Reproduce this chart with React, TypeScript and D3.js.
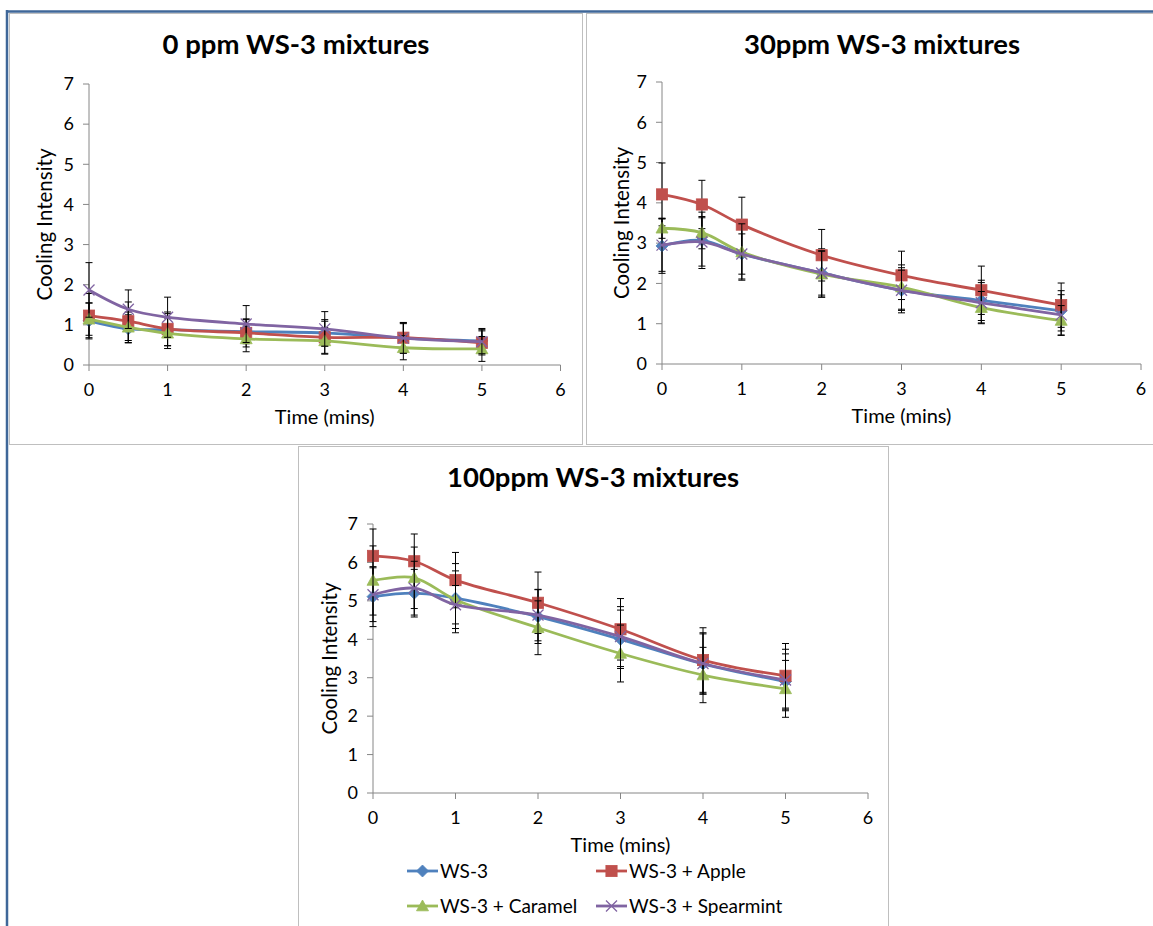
import React from "react";
import * as d3 from "d3";

const times = [0, 0.5, 1, 2, 3, 4, 5];
const seriesNames = ["WS-3", "WS-3 + Apple", "WS-3 + Caramel", "WS-3 + Spearmint"];
const xTicks = [0, 1, 2, 3, 4, 5, 6];
const yTicks = [0, 1, 2, 3, 4, 5, 6, 7];
const panelTitles = ["0 ppm WS-3 mixtures", "30ppm WS-3 mixtures", "100ppm WS-3 mixtures"];
const xTitle = "Time (mins)";
const yTitle = "Cooling Intensity";

// 0 ppm
const ws3_0 = [1.10, 0.90, 0.88, 0.83, 0.80, 0.67, 0.60];
const apple_0 = [1.23, 1.09, 0.90, 0.80, 0.69, 0.68, 0.55];
const caramel_0 = [1.14, 0.94, 0.79, 0.65, 0.60, 0.43, 0.40];
const spear_0 = [1.87, 1.39, 1.19, 1.02, 0.90, 0.67, 0.58];
const errWs3_0 = [0.45, 0.35, 0.40, 0.30, 0.33, 0.36, 0.31];
const errApple_0 = [0.55, 0.48, 0.42, 0.35, 0.40, 0.38, 0.30];
const errCaramel_0 = [0.40, 0.38, 0.38, 0.32, 0.33, 0.30, 0.31];
const errSpear_0 = [0.68, 0.48, 0.50, 0.46, 0.43, 0.38, 0.30];

// 30 ppm
const ws3_30 = [2.93, 3.07, 2.73, 2.26, 1.83, 1.58, 1.32];
const apple_30 = [4.21, 3.96, 3.46, 2.70, 2.20, 1.83, 1.46];
const caramel_30 = [3.37, 3.26, 2.78, 2.23, 1.91, 1.40, 1.08];
const spear_30 = [2.95, 3.03, 2.73, 2.26, 1.83, 1.52, 1.22];
const errWs3_30 = [0.68, 0.70, 0.62, 0.60, 0.56, 0.50, 0.50];
const errApple_30 = [0.78, 0.60, 0.68, 0.64, 0.60, 0.60, 0.55];
const errCaramel_30 = [0.25, 0.40, 0.70, 0.57, 0.55, 0.40, 0.37];
const errSpear_30 = [0.65, 0.60, 0.50, 0.55, 0.50, 0.50, 0.50];

// 100 ppm
const ws3_100 = [5.11, 5.20, 5.07, 4.59, 4.00, 3.36, 2.90];
const apple_100 = [6.17, 6.03, 5.54, 4.95, 4.26, 3.46, 3.05];
const caramel_100 = [5.53, 5.60, 5.03, 4.30, 3.63, 3.07, 2.71];
const spear_100 = [5.16, 5.33, 4.90, 4.63, 4.07, 3.37, 2.94];
const errWs3_100 = [0.78, 0.62, 0.90, 0.70, 0.76, 0.78, 0.72];
const errApple_100 = [0.70, 0.71, 0.72, 0.80, 0.80, 0.84, 0.84];
const errCaramel_100 = [0.90, 0.80, 0.75, 0.70, 0.74, 0.72, 0.74];
const errSpear_100 = [0.70, 0.70, 0.50, 0.67, 0.78, 0.80, 0.80];

const colors = ["#4F81BD", "#C0504D", "#9BBB59", "#8064A2"];
const FONT = "Lato, 'Noto Sans', sans-serif";

const panels = [
  {
    title: panelTitles[0],
    values: [ws3_0, apple_0, caramel_0, spear_0],
    errors: [errWs3_0, errApple_0, errCaramel_0, errSpear_0],
    x0: 89, x1: 560.5, y0: 365, y1: 84, titleX: 296, titleY: 54, yTitleX: 52,
  },
  {
    title: panelTitles[1],
    values: [ws3_30, apple_30, caramel_30, spear_30],
    errors: [errWs3_30, errApple_30, errCaramel_30, errSpear_30],
    x0: 662, x1: 1141, y0: 364, y1: 82, titleX: 882, titleY: 54, yTitleX: 629,
  },
  {
    title: panelTitles[2],
    values: [ws3_100, apple_100, caramel_100, spear_100],
    errors: [errWs3_100, errApple_100, errCaramel_100, errSpear_100],
    x0: 373, x1: 868, y0: 793, y1: 524, titleX: 593, titleY: 487, yTitleX: 337,
  },
];

function Marker({ kind, cx, cy, color }: { kind: number; cx: number; cy: number; color: string }) {
  if (kind === 0) {
    const r = 6;
    return <path d={`M${cx},${cy - r}L${cx + r},${cy}L${cx},${cy + r}L${cx - r},${cy}Z`} fill={color} stroke={color} strokeWidth={0.8} />;
  }
  if (kind === 1) {
    const r = 5.6;
    return <rect x={cx - r} y={cy - r} width={2 * r} height={2 * r} fill={color} stroke={color} strokeWidth={0.8} />;
  }
  if (kind === 2) {
    const r = 6;
    return <path d={`M${cx},${cy - r}L${cx + r},${cy + r * 0.8}L${cx - r},${cy + r * 0.8}Z`} fill={color} stroke={color} strokeWidth={0.8} />;
  }
  const r = 5.5;
  return (
    <path d={`M${cx - r},${cy - r}L${cx + r},${cy + r}M${cx - r},${cy + r}L${cx + r},${cy - r}`} stroke={color} strokeWidth={1.3} fill="none" />
  );
}

function Panel({ p }: { p: (typeof panels)[number] }) {
  const x = d3.scaleLinear().domain([0, 6]).range([p.x0, p.x1]);
  const y = d3.scaleLinear().domain([0, 7]).range([p.y0, p.y1]);
  const line = d3
    .line<number>()
    .x((_, i) => x(times[i]))
    .y((v) => y(v))
    .curve(d3.curveCatmullRom.alpha(0.5));
  const axisColor = "#868686";
  return (
    <g>
      <text x={p.titleX} y={p.titleY} textAnchor="middle" fontFamily={FONT} fontWeight="bold" fontSize={27.5} fill="#000">
        {p.title}
      </text>
      {/* y axis */}
      <line x1={x(0)} x2={x(0)} y1={y(0)} y2={y(7)} stroke={axisColor} strokeWidth={1} />
      {yTicks.map((t) => (
        <g key={"y" + t}>
          <line x1={x(0) - 6} x2={x(0)} y1={y(t)} y2={y(t)} stroke={axisColor} />
          <text x={x(0) - 15} y={y(t)} dy="0.35em" textAnchor="end" fontFamily={FONT} fontSize={18} fill="#000">
            {t}
          </text>
        </g>
      ))}
      {/* x axis */}
      <line x1={x(0)} x2={x(6)} y1={y(0)} y2={y(0)} stroke={axisColor} strokeWidth={1} />
      {xTicks.map((t) => (
        <g key={"x" + t}>
          <line x1={x(t)} x2={x(t)} y1={y(0)} y2={y(0) + 6} stroke={axisColor} />
          <text x={x(t)} y={y(0) + 31} textAnchor="middle" fontFamily={FONT} fontSize={18} fill="#000">
            {t}
          </text>
        </g>
      ))}
      <text x={(x(0) + x(6)) / 2} y={y(0) + 59} textAnchor="middle" fontFamily={FONT} fontSize={20} fill="#000">
        {xTitle}
      </text>
      <text
        transform={`translate(${p.yTitleX},${(y(0) + y(7)) / 2}) rotate(-90)`}
        textAnchor="middle"
        fontFamily={FONT}
        fontSize={20.5}
        fill="#000"
      >
        {yTitle}
      </text>
      {p.values.map((vals, si) => (
        <g key={"s" + si}>
          {vals.map((v, i) => {
            const e = p.errors[si][i];
            const cx = x(times[i]);
            return (
              <g key={"e" + i} stroke="#000" strokeWidth={1}>
                <line x1={cx} x2={cx} y1={y(v - e)} y2={y(v + e)} />
                <line x1={cx - 3.5} x2={cx + 3.5} y1={y(v - e)} y2={y(v - e)} />
                <line x1={cx - 3.5} x2={cx + 3.5} y1={y(v + e)} y2={y(v + e)} />
              </g>
            );
          })}
          <path d={line(vals) || ""} fill="none" stroke={colors[si]} strokeWidth={2.8} />
          {vals.map((v, i) => (
            <Marker key={"m" + i} kind={si} cx={x(times[i])} cy={y(v)} color={colors[si]} />
          ))}
        </g>
      ))}
    </g>
  );
}

const legendPos = [
  { lx: 407, ly: 871 },
  { lx: 596, ly: 871 },
  { lx: 407, ly: 906 },
  { lx: 596, ly: 906 },
];

export default function App() {
  return (
    <svg width={1153} height={926} style={{ position: "absolute", left: 0, top: 0, background: "#fff" }}>
      <rect x={0} y={0} width={1153} height={926} fill="#fff" />
      {/* panel borders */}
      <rect x={9.5} y={13.5} width={573} height={431} fill="none" stroke="#BFBFBF" strokeWidth={1} />
      <rect x={586.5} y={13.5} width={580} height={431} fill="none" stroke="#BFBFBF" strokeWidth={1} />
      <rect x={298.5} y={446.5} width={590} height={500} fill="none" stroke="#BFBFBF" strokeWidth={1} />
      {/* outer blue frame */}
      <line x1={6} x2={1153} y1={11.5} y2={11.5} stroke="#3F6799" strokeWidth={2.5} />
      <line x1={7} x2={7} y1={10} y2={926} stroke="#3F6799" strokeWidth={2.5} />
      {panels.map((p, i) => (
        <Panel key={i} p={p} />
      ))}
      {/* legend */}
      {seriesNames.map((name, si) => {
        const { lx, ly } = legendPos[si];
        return (
          <g key={"l" + si}>
            <line x1={lx} x2={lx + 31} y1={ly} y2={ly} stroke={colors[si]} strokeWidth={2.8} />
            <Marker kind={si} cx={lx + 15.5} cy={ly} color={colors[si]} />
            <text x={lx + 33} y={ly} dy="0.35em" fontFamily={FONT} fontSize={19} fill="#000">
              {name}
            </text>
          </g>
        );
      })}
    </svg>
  );
}
